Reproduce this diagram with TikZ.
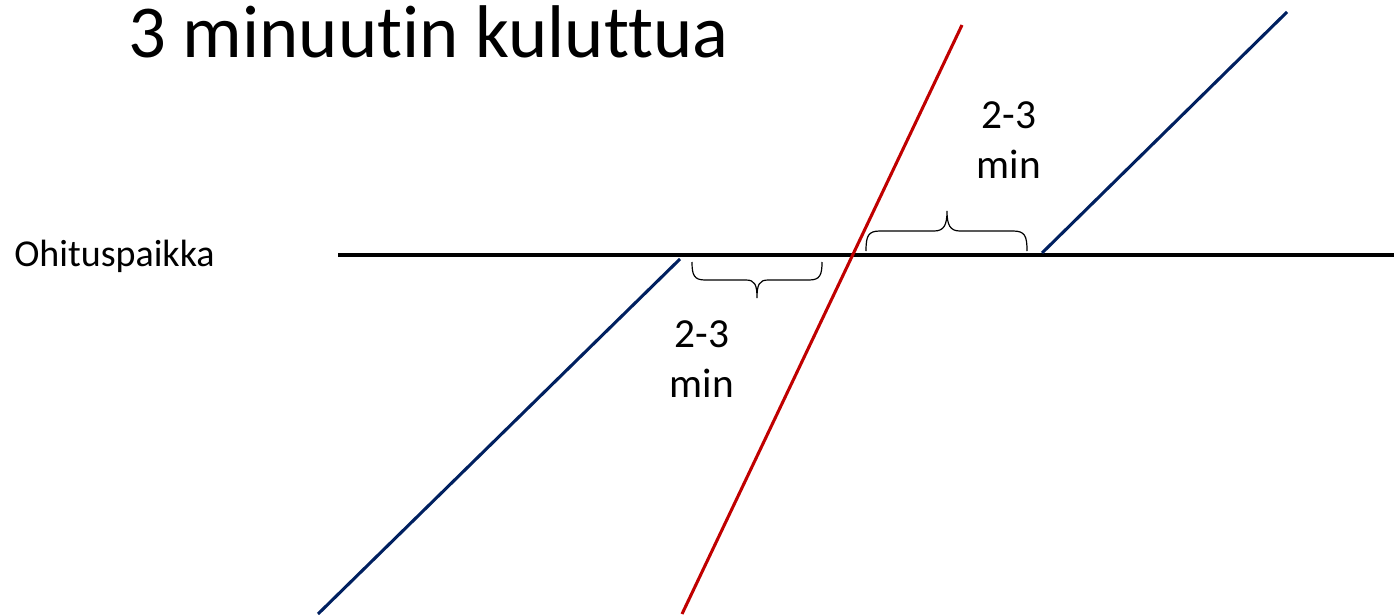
\documentclass[tikz,border=0pt]{standalone}
\usepackage{fontspec}
\setmainfont{Carlito}[Ligatures=NoCommon]
\definecolor{junared}{RGB}{192,0,0}
\definecolor{junablue}{RGB}{0,32,96}
\tikzset{
  raide/.style={line width=3pt,black},
  punainen/.style={line width=2.3pt,junared},
  sininen/.style={line width=2.3pt,junablue},
  sulku/.style={line width=0.9pt},
  aikateksti/.style={align=center,inner sep=0pt,font=\fontsize{31}{37.5}\selectfont}
}
\begin{document}
\begin{tikzpicture}[x=0.75pt,y=-0.75pt]
  \useasboundingbox (0,0) rectangle (1394,614);
  % otsikko ja paikan nimi
  \node (otsikko) [anchor=base west,inner sep=0pt,font=\fontsize{56}{64}\selectfont] at (128,57) {3 minuutin kuluttua};
  \node (paikka) [anchor=base west,inner sep=0pt,font=\fontsize{28.5}{34}\selectfont] at (14,266) {Ohituspaikka};
  % raiteet
  \coordinate (r1) at (338,255);
  \coordinate (r2) at (1394,255);
  \draw [raide] (r1) -- (r2);
  \coordinate (p1) at (682,614);
  \coordinate (p2) at (962,25);
  \draw [punainen] (p1) -- (p2);
  \coordinate (s1) at (318,614);
  \coordinate (s2) at (680,259);
  \draw [sininen] (s1) -- (s2);
  \coordinate (s3) at (1042,253);
  \coordinate (s4) at (1287,12);
  \draw [sininen] (s3) -- (s4);
  % aikavälit
  \coordinate (a1) at (692,262);
  \coordinate (a2) at (822,262);
  \draw [sulku] (a1) .. controls (692,275) and (694,280) .. (705,280) -- (746,280)
    .. controls (755,280) and (757,285) .. (757,298)
    .. controls (757,285) and (759,280) .. (768,280) -- (809,280)
    .. controls (820,280) and (822,275) .. (a2);
  \coordinate (b1) at (866,251);
  \coordinate (b2) at (1027,251);
  \draw [sulku] (b1) .. controls (866,236) and (868,231) .. (880,231) -- (934,231)
    .. controls (944,231) and (947,225) .. (947,211)
    .. controls (947,225) and (950,231) .. (960,231) -- (1013,231)
    .. controls (1025,231) and (1027,236) .. (b2);
  \node (alaväli) [aikateksti] at (702,359.5) {2-3\\min};
  \node (yläväli) [aikateksti] at (1009,140.5) {2-3\\min};
\end{tikzpicture}
\end{document}
